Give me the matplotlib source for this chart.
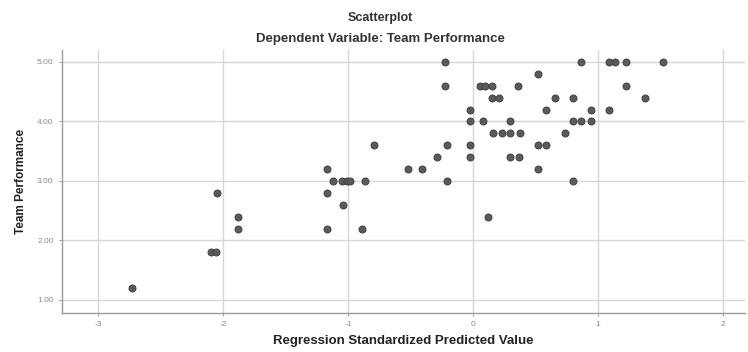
import matplotlib
matplotlib.use("Agg")
import matplotlib.pyplot as plt

# Data: predicted standardized value (x) and Team Performance (y)
x_pred = [
    -0.22, 0.87, 1.09, 1.14, 1.23, 1.52,          # 5.0
    0.52,                                          # 4.8
    -0.22, 0.06, 0.10, 0.15, 0.36, 1.23,           # 4.6
    0.15, 0.21, 0.66, 0.80, 1.38,                  # 4.4
    -0.02, 0.59, 0.95, 1.09,                       # 4.2
    -0.02, 0.08, 0.30, 0.80, 0.87, 0.95,           # 4.0
    0.16, 0.23, 0.30, 0.38, 0.74,                  # 3.8
    -0.79, -0.21, -0.02, 0.52, 0.59,               # 3.6
    -0.29, -0.02, 0.30, 0.37,                      # 3.4
    -1.17, -0.52, -0.41, 0.52,                     # 3.2
    -1.12, -1.05, -1.01, -0.98, -0.86, -0.21, 0.80,  # 3.0
    -2.05, -1.17,                                  # 2.8
    -1.04,                                         # 2.6
    -1.88, 0.12,                                   # 2.4
    -1.88, -1.17, -0.89,                           # 2.2
    -2.10, -2.06,                                  # 1.8
    -2.73,                                         # 1.2
]
y_perf = (
    [5.0] * 6 + [4.8] * 1 + [4.6] * 6 + [4.4] * 5 + [4.2] * 4 + [4.0] * 6
    + [3.8] * 5 + [3.6] * 5 + [3.4] * 4 + [3.2] * 4 + [3.0] * 7 + [2.8] * 2
    + [2.6] * 1 + [2.4] * 2 + [2.2] * 3 + [1.8] * 2 + [1.2] * 1
)
x_ticks = [-3, -2, -1, 0, 1, 2]
y_ticks = [1, 2, 3, 4, 5]

plt.rcParams['font.family'] = ['Liberation Sans', 'DejaVu Sans']

fig = plt.figure(figsize=(7.48, 3.52), dpi=100)
ax = fig.add_axes([62 / 748, 1 - 313 / 352, (745 - 62) / 748, (313 - 50) / 352])

ax.scatter(x_pred, y_perf, s=26, c='#5a5a5a', edgecolors='#3a3a3a',
           linewidths=0.6, zorder=3)

ax.set_xlim(-3.29, 2.18)
ax.set_ylim(0.78, 5.2)
ax.set_xticks(x_ticks)
ax.set_xticklabels([str(t) for t in x_ticks])
ax.set_yticks(y_ticks)
ax.set_yticklabels([f"{t:.2f}" for t in y_ticks])
ax.grid(True, color='#d6d6d6', linewidth=1.0, zorder=0)
ax.tick_params(axis='both', labelsize=6, colors='#8a8a8a', length=2,
               width=0.6, pad=4)

for s in ['top', 'right']:
    ax.spines[s].set_visible(False)
for s in ['left', 'bottom']:
    ax.spines[s].set_color('#9a9a9a')
    ax.spines[s].set_linewidth(1.0)

ax.set_xlabel('Regression Standardized Predicted Value', fontsize=9.5,
              fontweight='bold', color='#222222', labelpad=5)
ax.set_ylabel('Team Performance', fontsize=8.5, fontweight='bold',
              color='#222222', labelpad=7)

fig.text(0.508, 1 - 18 / 352, 'Scatterplot', ha='center', va='center',
         fontsize=9, fontweight='bold', color='#333333')
fig.text(0.508, 1 - 39 / 352, 'Dependent Variable: Team Performance',
         ha='center', va='center', fontsize=9.5, fontweight='bold',
         color='#333333')

fig.savefig('out.png', dpi=100)
